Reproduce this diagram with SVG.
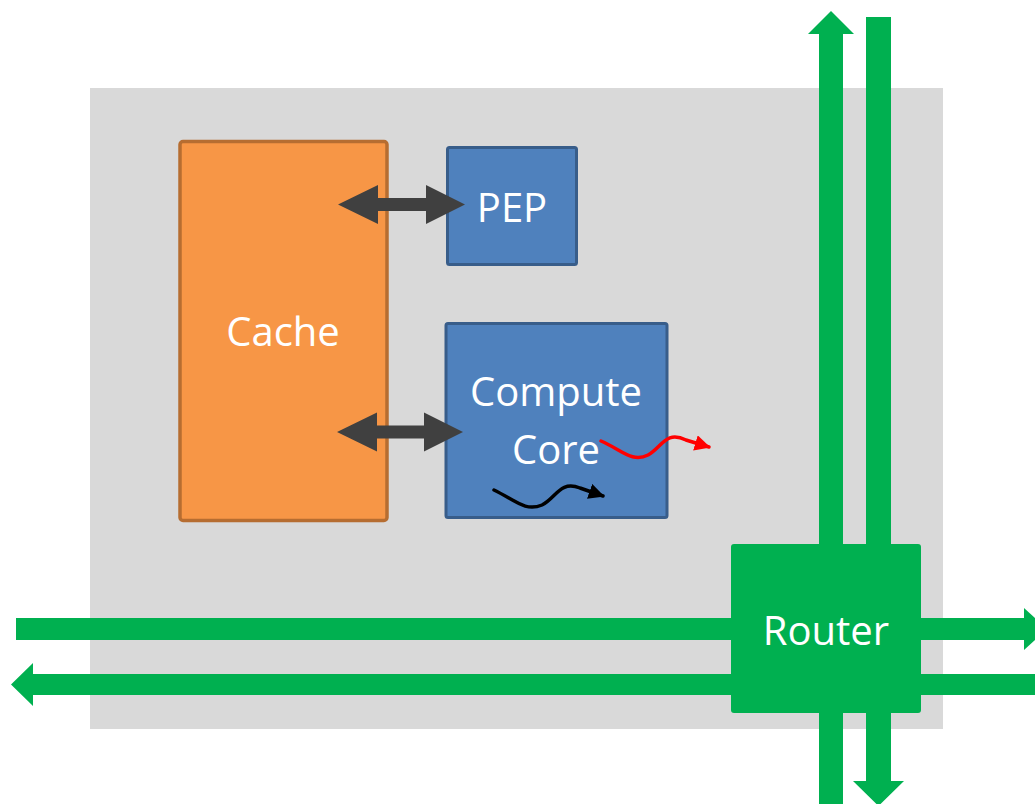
<svg xmlns="http://www.w3.org/2000/svg" width="1035" height="804" viewBox="0 0 1035 804">
  <defs>
    <style>
      .lbl { font-family: "Open Sans", "Liberation Sans", sans-serif; font-size: 40px; fill: #ffffff; text-anchor: middle; }
      .net { fill: #00B050; }
      .bus { fill: #404040; }
      .blue { fill: #4F81BD; stroke: #385D8A; stroke-width: 3; }
      .wave { fill: none; stroke-width: 3.5; stroke-linecap: round; }
    </style>
    <marker id="headRed" viewBox="0 0 10 10" refX="9" refY="5" markerWidth="4.5" markerHeight="4.5" orient="auto" markerUnits="strokeWidth">
      <path d="M0,0 L10,5 L0,10 z" fill="#FF0000"/>
    </marker>
    <marker id="headBlack" viewBox="0 0 10 10" refX="9" refY="5" markerWidth="4.5" markerHeight="4.5" orient="auto" markerUnits="strokeWidth">
      <path d="M0,0 L10,5 L0,10 z" fill="#000000"/>
    </marker>
  </defs>

  <!-- tile background -->
  <rect x="90" y="88" width="853" height="641" fill="#D9D9D9"/>

  <!-- network links (pass underneath the router) -->
  <g id="links">
    <!-- vertical up link with arrowhead -->
    <path class="net" d="M819,804 L819,34 L808,34 L831,11 L854,34 L843,34 L843,804 Z"/>
    <!-- vertical down link with arrowhead -->
    <path class="net" d="M866,17 L891,17 L891,781 L904,781 L878.5,806 L853,781 L866,781 Z"/>
    <!-- horizontal eastbound link -->
    <path class="net" d="M16,618 L1024,618 L1024,608 L1047,629 L1024,650 L1024,640 L16,640 Z"/>
    <!-- horizontal westbound link -->
    <path class="net" d="M1035,674 L33,674 L33,663 L11,684.5 L33,706 L33,695 L1035,695 Z"/>
  </g>

  <g id="cache">
    <rect x="180" y="141.5" width="207" height="379" rx="3" fill="#F79646" stroke="#B66D31" stroke-width="3.5"/>
    <text class="lbl" x="283" y="346">Cache</text>
  </g>

  <g id="pep">
    <rect class="blue" x="447.5" y="147.5" width="129" height="117" rx="2"/>
    <text class="lbl" x="512" y="222">PEP</text>
  </g>

  <g id="compute-core">
    <rect class="blue" x="446" y="323.5" width="221" height="194" rx="2"/>
    <text class="lbl" x="556" y="406">Compute</text>
    <text class="lbl" x="556" y="464">Core</text>
    <!-- data flow squiggles -->
    <path class="wave" stroke="#000000" marker-end="url(#headBlack)" d="M494,490 C515,500 525,512 542,505 C556,498 560,480 580,488 L603,496"/>
    <path class="wave" stroke="#FF0000" marker-end="url(#headRed)" d="M601,441 C622,450 632,463 648,455 C662,447 666,430 686,440 L709,447"/>
  </g>

  <g id="router">
    <rect x="731" y="544" width="190" height="169" rx="3" fill="#00B050"/>
    <text class="lbl" x="826" y="645">Router</text>
  </g>

  <!-- double-headed buses drawn over the block edges -->
  <g id="connectors">
    <!-- cache <-> PEP -->
    <path class="bus" d="M338,204.5 L378,185 L378,198 L426,198 L426,185 L465,204.5 L426,224 L426,211 L378,211 L378,224 Z"/>
    <!-- cache <-> compute core -->
    <path class="bus" d="M337,432 L377,412.5 L377,425.5 L424,425.5 L424,412.5 L463,432 L424,451.5 L424,438.5 L377,438.5 L377,451.5 Z"/>
  </g>
</svg>
